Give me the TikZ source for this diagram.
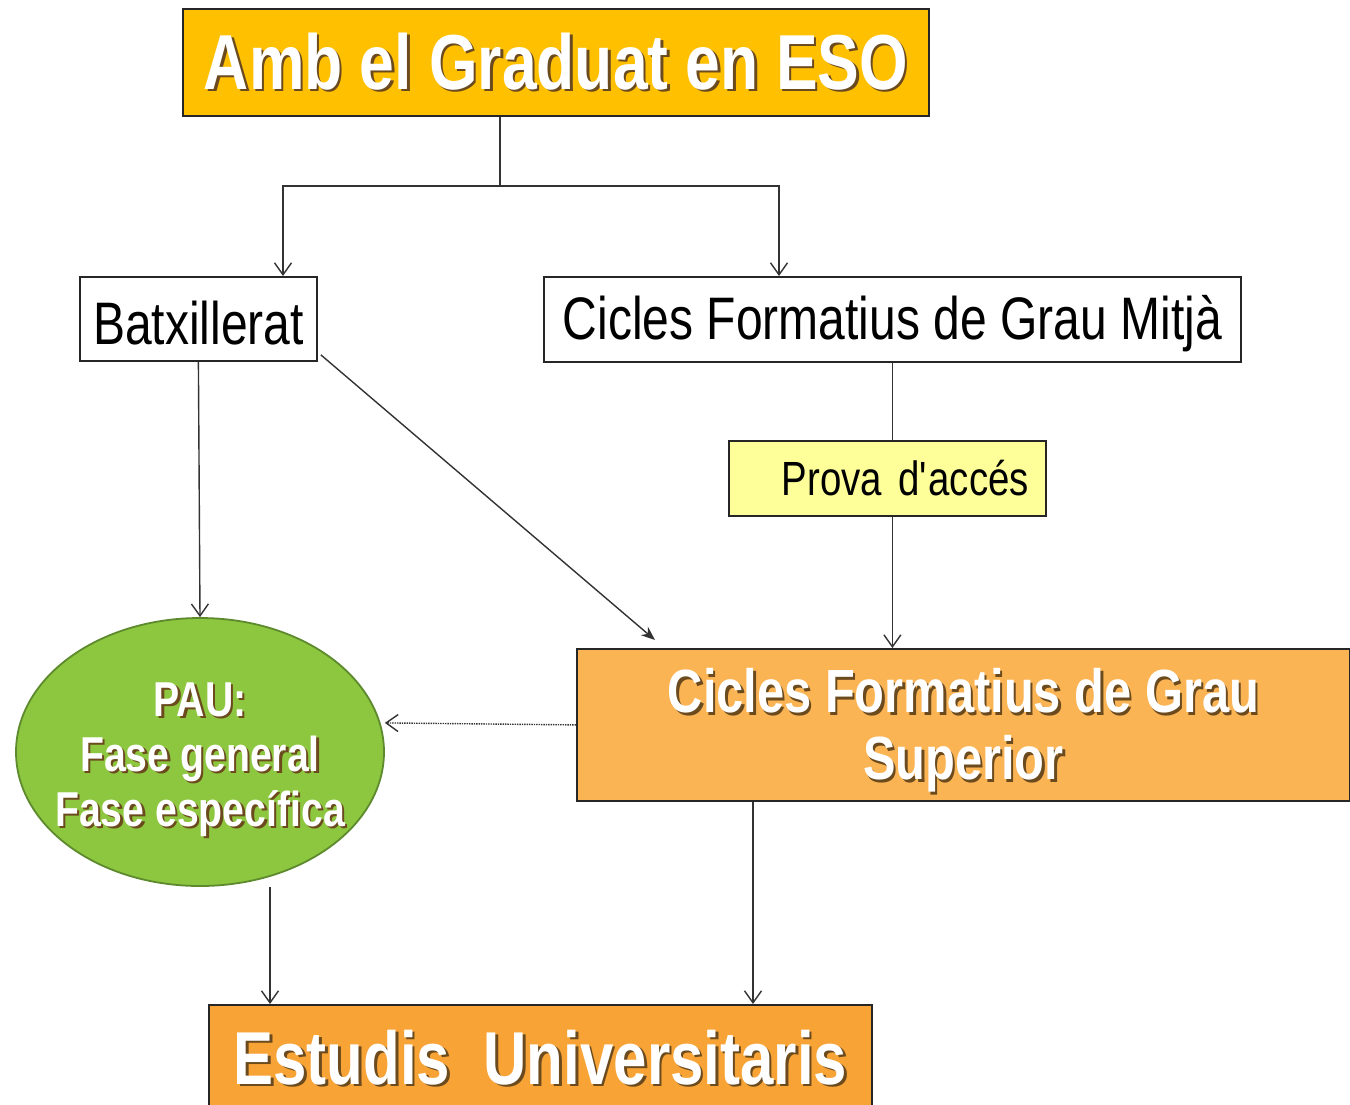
\documentclass[tikz,border=0pt]{standalone}
\usepackage{fontspec}
\setmainfont{Liberation Sans}[FakeStretch=0.8]
\usepackage{tikz}
\usetikzlibrary{arrows.meta, positioning, shapes.geometric}

\definecolor{esogold}{HTML}{FFC000}
\definecolor{provayel}{HTML}{FFFF99}
\definecolor{paugreen}{HTML}{8DC63F}
\definecolor{pauedge}{HTML}{5E8A2E}
\definecolor{cfgsorange}{HTML}{FBB454}
\definecolor{uniorange}{HTML}{F8A336}
\definecolor{shadowc}{HTML}{6B4A1E}
\definecolor{linec}{HTML}{333333}

\newcommand{\shadowed}[1]{\makebox[0pt][l]{\hspace{2.5pt}\raisebox{-2.5pt}{\textcolor{shadowc}{#1}}}#1}

\begin{document}
\begin{tikzpicture}[x=1pt,y=-1pt,>={Straight Barb[length=12pt,width=17pt]},
        line width=1.4pt,
        box/.style={draw=black!85,line width=1.8pt,inner sep=0pt,anchor=north west},
        whitebox/.style={box,fill=white,text=black,font=\fontsize{60}{66}\selectfont},
        bigbox/.style={box,text=white,font=\bfseries\fontsize{78}{86}\selectfont},
        conn/.style={draw=linec}]
        \path[use as bounding box,clip] (0,0) rectangle (1350,1104);
        \fill[white] (0,0) rectangle (1350,1104);

        % boxes
        \node[bigbox,fill=esogold,minimum width=746pt,minimum height=107pt] (eso) at (182,8) {\shadowed{Amb el Graduat en ESO}};
        \node[whitebox,minimum width=237pt,minimum height=84pt] (batx) at (79,276) {\rule{0pt}{52pt}Batxillerat};
        \node[whitebox,minimum width=697pt,minimum height=85pt] (cfgm) at (543,276) {\rule{0pt}{52pt}Cicles Formatius de Grau Mitjà};
        \node[box,fill=provayel,font=\fontsize{48}{54}\selectfont,inner xsep=17pt,
            text width=283pt,align=right,minimum height=75pt] (prova) at (728,440) {Prova d\textquotesingle accés};
        \node[draw=pauedge,line width=1.8pt,fill=paugreen,ellipse,inner xsep=-20pt,inner ysep=0pt,
            minimum width=368pt,minimum height=268pt,text=white,align=center,
            font=\bfseries\fontsize{49}{55}\selectfont] (pau) at (200,752)
            {\rule{0pt}{51pt}\shadowed{PAU:}\\\shadowed{Fase general}\\\shadowed{Fase específica}};
        \node[box,fill=cfgsorange,minimum width=773pt,minimum height=152pt,text=white,align=center,
            font=\bfseries\fontsize{61}{67}\selectfont] (cfgs) at (576,648)
            {\rule{0pt}{58pt}\shadowed{Cicles Formatius de Grau}\\\shadowed{Superior}};
        \node[bigbox,fill=uniorange,minimum width=663pt,minimum height=108pt,
            font=\bfseries\fontsize{75}{82}\selectfont] (estudis) at (208,1004) {\shadowed{Estudis\ \ Universitaris}};

        % connectors
        \coordinate (lsplit) at (283,186);
        \coordinate (rsplit) at (779,186);
        \coordinate (msplit) at (500,186);
        \draw[conn] (msplit |- eso.south) -- (msplit);
        \draw[conn,->] (msplit) -- (lsplit) -- (lsplit |- batx.north);
        \draw[conn,->] (msplit) -- (rsplit) -- (rsplit |- cfgm.north);
        \draw[conn] (cfgm.south) -- (cfgm.south |- prova.north);
        \draw[conn,->] (prova.south -| cfgm.south) -- (cfgs.north -| cfgm.south);
        \draw[conn,->] (batx.south) -- (pau.north);
        \draw[conn,-{Stealth[length=14pt,width=11pt]}] ([xshift=3pt,yshift=7pt]batx.south east) -- ([xshift=79pt,yshift=8pt]cfgs.north west);
        \draw[conn,densely dotted,->] (cfgs.west) -- ([yshift=2pt]cfgs.west -| pau.east);
        \draw[conn,->] ([xshift=70pt]pau.south) -- ([xshift=70pt]pau.south |- estudis.north);
        \draw[conn,->] ([xshift=177pt]cfgs.south west) -- ([xshift=177pt]cfgs.south west |- estudis.north);
    \end{tikzpicture}
\end{document}
